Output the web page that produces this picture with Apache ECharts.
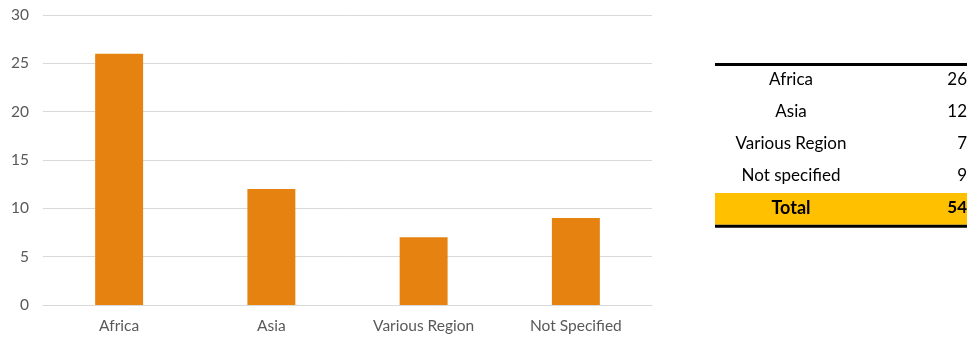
<!DOCTYPE html>
<html>
<head>
<meta charset="utf-8">
<script src="https://cdn.jsdelivr.net/npm/echarts@6/dist/echarts.min.js"></script>
<style>
  html, body { margin: 0; padding: 0; background: #fff; }
  #chart { width: 967px; height: 339px; }
</style>
</head>
<body>
<div id="chart"></div>
<script>
// chart data
const categories = ['Africa', 'Asia', 'Various Region', 'Not Specified'];
const counts = [26, 12, 7, 9];
// table data
const tableLabels = ['Africa', 'Asia', 'Various Region', 'Not specified'];
const tableValues = [26, 12, 7, 9];
const totalLabel = 'Total';
const totalValue = 54;

const myChart = echarts.init(document.getElementById('chart'));
const font = 'Lato, "Noto Sans", sans-serif';

// table drawn with graphic elements
const tableLeft = 715, tableRight = 967, rowTop = 66, rowH = 31.75;
const graphics = [];
graphics.push({ type: 'rect', shape: { x: tableLeft, y: rowTop + rowH * 4, width: tableRight - tableLeft, height: rowH }, style: { fill: '#FFC000' } });
graphics.push({ type: 'rect', shape: { x: tableLeft, y: rowTop - 3, width: tableRight - tableLeft, height: 3 }, style: { fill: '#000' } });
graphics.push({ type: 'rect', shape: { x: tableLeft, y: rowTop + rowH * 5, width: tableRight - tableLeft, height: 3 }, style: { fill: '#000' } });
tableLabels.forEach((lab, i) => {
    const cy = rowTop + rowH * i + rowH / 2 - 2;
    graphics.push({ type: 'text', x: 791, y: cy, style: { text: lab, font: '17px ' + font, fill: '#000', align: 'center', verticalAlign: 'middle' } });
    graphics.push({ type: 'text', x: 967, y: cy, style: { text: String(tableValues[i]), font: '17px ' + font, fill: '#000', align: 'right', verticalAlign: 'middle' } });
});
{
    const cy = rowTop + rowH * 4 + rowH / 2 - 1;
    graphics.push({ type: 'text', x: 791, y: cy, style: { text: totalLabel, font: 'bold 18px ' + font, fill: '#000', align: 'center', verticalAlign: 'middle' } });
    graphics.push({ type: 'text', x: 967, y: cy, style: { text: String(totalValue), font: 'bold 17px ' + font, fill: '#000', align: 'right', verticalAlign: 'middle' } });
}

const option = {
    animation: false,
    grid: { left: 43, right: 315, top: 15, bottom: 34 },
    xAxis: {
        type: 'category',
        data: categories,
        axisLine: { lineStyle: { color: '#d9d9d9' } },
        axisTick: { show: false },
        axisLabel: { color: '#595959', fontSize: 15.5, fontFamily: font, margin: 13 }
    },
    yAxis: {
        type: 'value',
        min: 0,
        max: 30,
        interval: 5,
        axisLine: { show: false },
        axisTick: { show: false },
        splitLine: { lineStyle: { color: '#d9d9d9' } },
        axisLabel: { color: '#595959', fontSize: 15.5, fontFamily: font, margin: 14 }
    },
    series: [
        {
            type: 'bar',
            data: counts,
            barWidth: '31.5%',
            itemStyle: { color: '#E68310' }
        }
    ],
    graphic: graphics
};
myChart.setOption(option);
</script>
</body>
</html>
